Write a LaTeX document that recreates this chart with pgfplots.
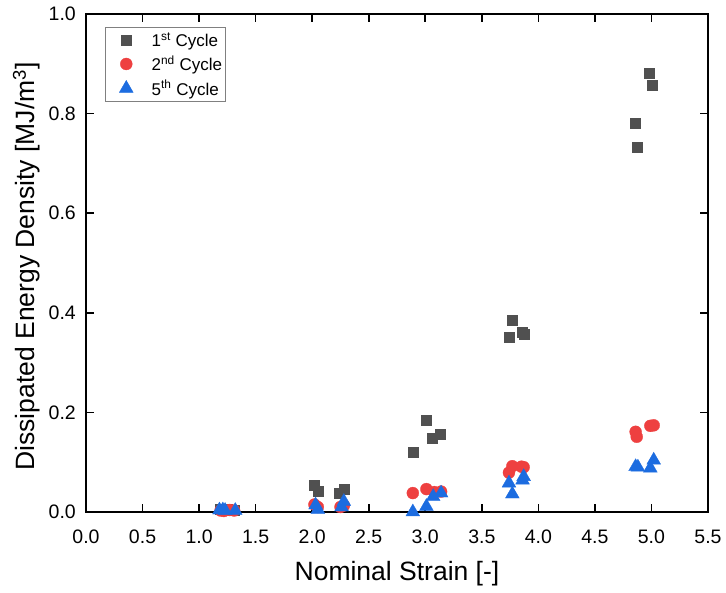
\documentclass[border=0pt]{standalone}
\usepackage{pgfplots}
\pgfplotsset{compat=1.18}
\usepackage{fontspec}
\setmainfont{Liberation Sans}
\definecolor{cgray}{RGB}{80,80,80}
\definecolor{cred}{RGB}{238,64,64}
\definecolor{cblue}{RGB}{28,108,224}
\begin{document}
\begin{tikzpicture}
\useasboundingbox (-86pt,-81pt) rectangle (640pt,512pt);
\begin{axis}[
  at={(0pt,0pt)}, anchor=south west,
  width=622pt, height=498pt, scale only axis,
  xmin=0, xmax=5.5, ymin=0, ymax=1,
  xtick={0,0.5,1,1.5,2,2.5,3,3.5,4,4.5,5,5.5},
  ytick={0,0.2,0.4,0.6,0.8,1.0},
  minor tick num=0,
  tick align=inside,
  major tick length=8pt,
  axis line style={line width=1.6pt},
  every tick/.style={line width=1.6pt, black},
  /pgf/number format/.cd, fixed, fixed zerofill, precision=1, assume math mode=true,
  /pgfplots/.cd,
  tick label style={font=\fontsize{19.5}{23}\selectfont},
  xticklabel style={inner sep=0pt, anchor=north, yshift=-18pt},
  yticklabel style={inner sep=0pt, anchor=east, xshift=-10pt},
  xlabel={Nominal Strain [-]},
  ylabel={Dissipated Energy Density [MJ/m\textsuperscript{3}]},
  label style={font=\fontsize{26.5}{30}\selectfont},
  xlabel style={at={(axis description cs:0.5,0)}, anchor=base, yshift=-69pt, inner sep=0pt},
  ylabel style={font=\fontsize{26.5}{30}\selectfont, at={(axis description cs:0,0.493)}, anchor=base, yshift=51pt, inner sep=0pt},
  legend image code/.code={%
    \path (-20.5pt,0pt) (24pt,0pt);
    \draw[#1] plot coordinates {(0pt,0pt)};},
  legend style={at={(axis description cs:0.0305,0.973)}, anchor=north west,
    draw=gray, line width=0.8pt, font=\fontsize{17}{20}\selectfont,
    row sep=4pt, inner ysep=2.5pt, inner xsep=0pt,
    nodes={inner xsep=1pt}},
  legend cell align=left,
]
\addplot[only marks, mark=square*, mark size=5pt, mark options={fill=cgray, draw=cgray, line width=0.3pt}] coordinates {
(1.19,0.005) (1.22,0.004) (1.25,0.005) (1.31,0.004)
(2.02,0.053) (2.05,0.042) (2.24,0.038) (2.28,0.046)
(2.89,0.121) (3.01,0.184) (3.06,0.148) (3.13,0.156)
(3.74,0.351) (3.77,0.386) (3.86,0.362) (3.87,0.358)
(4.86,0.780) (4.87,0.732) (4.98,0.882) (5.01,0.858)
};
\addlegendentry{1\textsuperscript{st} Cycle\hspace*{2pt}}
\addplot[only marks, mark=*, mark size=6pt, mark options={fill=cred, draw=cred, line width=0.3pt}] coordinates {
(1.19,0.003) (1.22,0.002) (1.27,0.004) (1.31,0.003)
(2.02,0.015) (2.05,0.010) (2.25,0.010) (2.28,0.013)
(2.89,0.038) (3.01,0.046) (3.08,0.040) (3.14,0.041)
(3.74,0.079) (3.77,0.092) (3.85,0.091) (3.87,0.090)
(4.86,0.161) (4.87,0.151) (4.99,0.173) (5.02,0.174)
};
\addlegendentry{2\textsuperscript{nd} Cycle\hspace*{2pt}}
\addplot[only marks, mark=triangle*, mark size=8pt, mark options={fill=cblue, draw=cblue, line width=0.3pt}] coordinates {
(1.18,0.004) (1.21,0.004) (1.23,0.003) (1.32,0.003)
(2.03,0.014) (2.05,0.005) (2.26,0.010) (2.28,0.021)
(2.89,0.0) (3.01,0.011) (3.07,0.031) (3.14,0.038)
(3.74,0.058) (3.77,0.036) (3.86,0.064) (3.87,0.071)
(4.86,0.091) (4.88,0.090) (4.99,0.088) (5.02,0.104)
};
\addlegendentry{5\textsuperscript{th} Cycle\hspace*{2pt}}
\end{axis}
\end{tikzpicture}
\end{document}
